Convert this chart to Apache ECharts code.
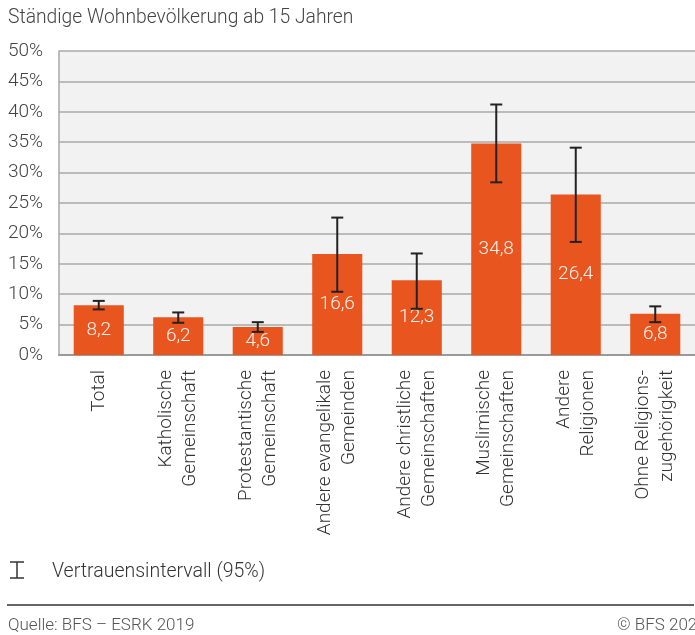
<!DOCTYPE html>
<html>
<head>
<meta charset="utf-8">
<script src="https://cdn.jsdelivr.net/npm/echarts@6/dist/echarts.min.js"></script>
<style>
  html, body { margin: 0; padding: 0; background: #ffffff; }
  #chart { width: 695px; height: 635px; }
</style>
</head>
<body>
<div id="chart"></div>
<script>
// Religious affiliation groups, resident population aged 15 and over
const categories = [
  'Total',
  'Katholische\nGemeinschaft',
  'Protestantische\nGemeinschaft',
  'Andere evangelikale\nGemeinden',
  'Andere christliche\nGemeinschaften',
  'Muslimische\nGemeinschaften',
  'Andere\nReligionen',
  'Ohne Religions-\nzugehörigkeit'
];
// Share in percent
const values = [8.2, 6.2, 4.6, 16.6, 12.3, 34.8, 26.4, 6.8];
// 95% confidence interval bounds
const ciLow  = [7.5, 5.3, 3.8, 10.4, 7.6, 28.4, 18.6, 5.4];
const ciHigh = [8.9, 7.0, 5.4, 22.6, 16.7, 41.2, 34.1, 8.0];
// Value axis ticks
const yTicks = [0, 5, 10, 15, 20, 25, 30, 35, 40, 45, 50];

const FONT = 'Roboto, "Noto Sans", sans-serif';
const BAR = '#e9551f';

const chart = echarts.init(document.getElementById('chart'), null, { renderer: 'canvas' });

const errorData = categories.map((c, i) => [i, ciLow[i], ciHigh[i]]);

chart.setOption({
  animation: false,
  backgroundColor: '#ffffff',
  grid: {
    left: 59, top: 51, width: 648, height: 304,
    show: true, backgroundColor: '#f2f2f2', borderWidth: 0
  },
  xAxis: {
    type: 'category',
    data: categories,
    axisLine: { show: true, lineStyle: { color: '#9a9a9a', width: 2 } },
    axisTick: { show: false },
    axisLabel: {
      interval: 0, rotate: 90, margin: 15,
      fontFamily: FONT, fontWeight: 300, fontSize: 19, lineHeight: 24,
      color: '#333333'
    }
  },
  yAxis: {
    type: 'value',
    min: yTicks[0], max: yTicks[yTicks.length - 1], interval: 5,
    axisLine: { show: true, lineStyle: { color: '#a8a8a8', width: 1.5 } },
    axisTick: { show: false },
    splitLine: { show: true, lineStyle: { color: '#a8a8a8', width: 1.5 } },
    axisLabel: {
      margin: 16, formatter: '{value}%',
      fontFamily: FONT, fontWeight: 300, fontSize: 19, color: '#444444'
    }
  },
  series: [
    {
      type: 'bar',
      data: values,
      barWidth: '63%',
      itemStyle: { color: BAR },
      label: {
        show: true, position: 'inside',
        formatter: p => String(p.value).replace('.', ','),
        fontFamily: FONT, fontWeight: 300, fontSize: 19, color: '#fff4ef'
      },
      z: 2
    },
    {
      type: 'custom',
      data: errorData,
      z: 3,
      renderItem: (params, api) => {
        const x = api.value(0);
        const lo = api.coord([x, api.value(1)]);
        const hi = api.coord([x, api.value(2)]);
        const half = 6;
        const style = { stroke: '#222222', lineWidth: 2 };
        return {
          type: 'group',
          children: [
            { type: 'line', shape: { x1: lo[0], y1: lo[1], x2: hi[0], y2: hi[1] }, style },
            { type: 'line', shape: { x1: hi[0] - half, y1: hi[1], x2: hi[0] + half, y2: hi[1] }, style },
            { type: 'line', shape: { x1: lo[0] - half, y1: lo[1], x2: lo[0] + half, y2: lo[1] }, style }
          ]
        };
      }
    }
  ],
  graphic: [
    {
      type: 'text', left: 8, top: 9,
      style: { text: 'Ständige Wohnbevölkerung ab 15 Jahren', font: '300 19.3px ' + FONT, fill: '#444444' }
    },
    // legend symbol: confidence interval I-beam
    { type: 'line', shape: { x1: 17, y1: 562, x2: 17, y2: 578 }, style: { stroke: '#333', lineWidth: 1.5 } },
    { type: 'line', shape: { x1: 10, y1: 562, x2: 24, y2: 562 }, style: { stroke: '#333', lineWidth: 1.5 } },
    { type: 'line', shape: { x1: 10, y1: 578, x2: 24, y2: 578 }, style: { stroke: '#333', lineWidth: 1.5 } },
    {
      type: 'text', left: 52, top: 562,
      style: { text: 'Vertrauensintervall (95%)', font: '300 19.5px ' + FONT, fill: '#333333' }
    },
    // footer rule
    { type: 'line', shape: { x1: 7, y1: 605, x2: 694, y2: 605 }, style: { stroke: '#333', lineWidth: 1.5 } },
    {
      type: 'text', left: 8, top: 617,
      style: { text: 'Quelle: BFS – ESRK 2019', font: '300 17px ' + FONT, fill: '#555555' }
    },
    {
      type: 'text', left: 617, top: 617,
      style: { text: '© BFS 2021', font: '300 17px ' + FONT, fill: '#555555' }
    }
  ]
});
</script>
</body>
</html>
